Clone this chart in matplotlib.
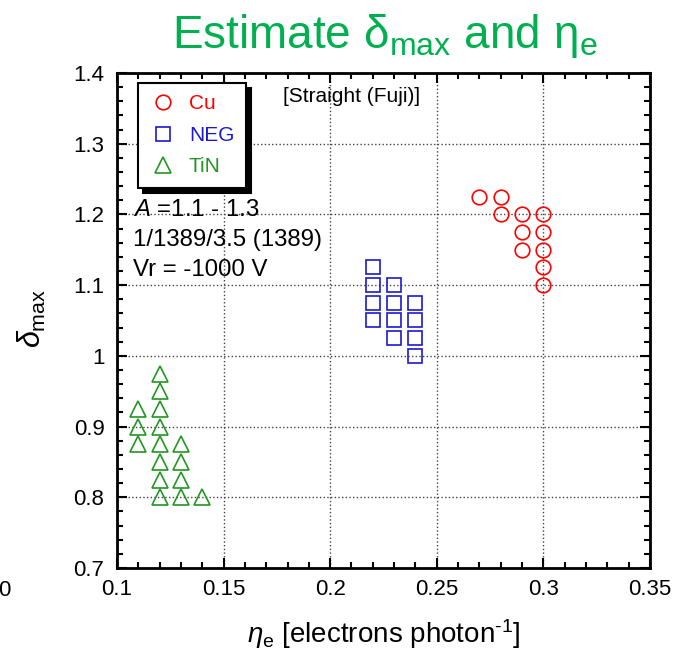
import numpy as np
import matplotlib
matplotlib.use("Agg")
import matplotlib.pyplot as plt
from matplotlib.ticker import MultipleLocator

plt.rcParams['font.family'] = ['Liberation Sans', 'DejaVu Sans']
plt.rcParams['mathtext.fontset'] = 'custom'
plt.rcParams['mathtext.rm'] = 'Liberation Sans'
plt.rcParams['mathtext.it'] = 'Liberation Sans:italic'
plt.rcParams['axes.unicode_minus'] = False

# data
cu_x = [0.27, 0.28, 0.28, 0.29, 0.29, 0.29, 0.30, 0.30, 0.30, 0.30, 0.30]
cu_y = [1.225, 1.225, 1.2, 1.2, 1.175, 1.15, 1.2, 1.175, 1.15, 1.125, 1.1]

neg_x = [0.22, 0.22, 0.22, 0.22, 0.23, 0.23, 0.23, 0.23, 0.24, 0.24, 0.24, 0.24]
neg_y = [1.125, 1.1, 1.075, 1.05, 1.1, 1.075, 1.05, 1.025, 1.075, 1.05, 1.025, 1.0]

tin_x = [0.12, 0.12, 0.11, 0.12, 0.11, 0.12, 0.11, 0.12, 0.13,
         0.12, 0.13, 0.12, 0.13, 0.12, 0.13, 0.14]
tin_y = [0.975, 0.95, 0.925, 0.925, 0.9, 0.9, 0.875, 0.875, 0.875,
         0.85, 0.85, 0.825, 0.825, 0.8, 0.8, 0.8]

x_ticks = [0.1, 0.15, 0.2, 0.25, 0.3, 0.35]
x_ticklabels = ['0.1', '0.15', '0.2', '0.25', '0.3', '0.35']
y_ticks = [0.7, 0.8, 0.9, 1.0, 1.1, 1.2, 1.3, 1.4]
y_ticklabels = ['0.7', '0.8', '0.9', '1', '1.1', '1.2', '1.3', '1.4']

c_cu, c_neg, c_tin = 'red', '#1a1ad0', '#239623'

fig = plt.figure(figsize=(6.73, 6.63), dpi=100)
ax = fig.add_axes([0.1738, 0.1433, 0.7920, 0.7466])

ax.plot(cu_x, cu_y, 'o', ls='none', mfc='none', mec=c_cu, mew=1.2, ms=10.5, label='Cu')
ax.plot(neg_x, neg_y, 's', ls='none', mfc='none', mec=c_neg, mew=1.2, ms=10, label='NEG')
ax.plot(tin_x, tin_y, '^', ls='none', mfc='none', mec=c_tin, mew=1.2, ms=11.5, label='TiN')

ax.set_xlim(0.1, 0.35)
ax.set_ylim(0.7, 1.4)
ax.set_xticks(x_ticks)
ax.set_xticklabels(x_ticklabels)
ax.set_yticks(y_ticks)
ax.set_yticklabels(y_ticklabels)
ax.xaxis.set_minor_locator(MultipleLocator(0.01))
ax.yaxis.set_minor_locator(MultipleLocator(0.02))
ax.tick_params(which='both', direction='in', top=True, right=True, labelsize=16, width=1.5)
ax.tick_params(which='major', length=7)
ax.tick_params(axis='x', which='major', pad=8)
ax.tick_params(axis='y', which='major', pad=9)
ax.tick_params(which='minor', length=4)
for s in ax.spines.values():
    s.set_linewidth(2)
ax.grid(True, which='major', ls=':', color='#444444', lw=1)

leg = ax.legend(loc='upper left', bbox_to_anchor=(0.039, 0.98), borderaxespad=0,
                fancybox=False, shadow={'color': 'black', 'alpha': 1, 'ox': 4, 'oy': -4},
                edgecolor='black', framealpha=1, fontsize=15, handlelength=1.3,
                handletextpad=0.6, labelspacing=0.6, borderpad=0.55,
                labelcolor=[c_cu, c_neg, c_tin])
leg.get_frame().set_linewidth(1.5)

ax.text(0.44, 0.952, '[Straight (Fuji)]', transform=ax.transAxes, fontsize=15,
        ha='center', va='center')
ax.text(0.03, 0.723, r'$\it{A}$ =1.1 - 1.3', transform=ax.transAxes, fontsize=17.3, va='center')
ax.text(0.03, 0.662, '1/1389/3.5 (1389)', transform=ax.transAxes, fontsize=17.3, va='center')
ax.text(0.03, 0.603, 'Vr = -1000 V', transform=ax.transAxes, fontsize=17.3, va='center')

ax.set_xlabel(r'$\it{\eta}_\mathregular{e}$ [electrons photon$^{\text{-1}}$]', fontsize=20, labelpad=12)
ax.set_ylabel(r'$\it{\delta}_\mathregular{max}$', fontsize=22)
ax.yaxis.set_label_coords(-0.13, 0.505)

fig.text(0.572, 0.982, r'Estimate δ$_\mathregular{max}$ and η$_\mathregular{e}$',
         color='#00b050', fontsize=33, ha='center', va='top')
fig.text(0.016, 0.11, '0', fontsize=16, ha='right', va='center')

fig.savefig('out.png', dpi=100)
